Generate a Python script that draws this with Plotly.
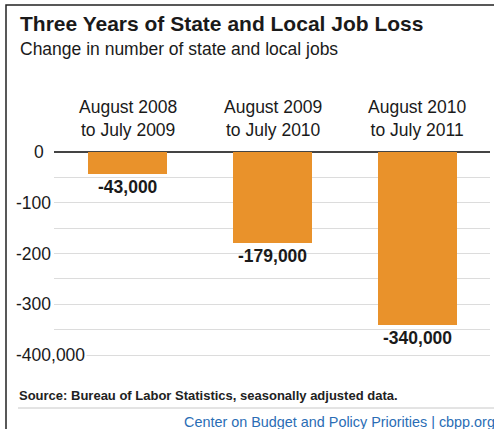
import plotly.graph_objects as go

# ---- data ----
categories = ["August 2008<br>to July 2009", "August 2009<br>to July 2010", "August 2010<br>to July 2011"]
job_change_thousands = [-43, -179, -340]
value_labels = ["-43,000", "-179,000", "-340,000"]
ytick_vals = [0, -100, -200, -300, -400]
ytick_text = ["0", "-100", "-200", "-300", "-400,000"]
grid_vals = [-50, -100, -150, -200, -250, -300, -350, -400]

W, H = 494, 429
BAR = "#E9922B"
TXT = "#1a1a1a"
FONT = "Liberation Sans, Arial, sans-serif"

def py(px):
    return 1 - px / H

xs = list(range(len(categories)))

fig = go.Figure()
fig.add_trace(go.Bar(
    x=xs, y=job_change_thousands, marker=dict(color=BAR, line=dict(width=0)),
    width=0.545, hoverinfo="skip", showlegend=False,
))

ann = []
for x, c in zip(xs, categories):
    ann.append(dict(x=x, xref="x", y=py(118), yref="paper", text=c, showarrow=False,
                    xanchor="center", yanchor="middle",
                    font=dict(family=FONT, size=17.5, color=TXT)))
for x, v, t in zip(xs, job_change_thousands, value_labels):
    ann.append(dict(x=x, xref="x", y=v, yref="y", text="<b>%s</b>" % t, showarrow=False,
                    xanchor="center", yanchor="top", yshift=-1,
                    font=dict(family=FONT, size=17.5, color=TXT)))
for v, t in zip(ytick_vals, ytick_text):
    if v == 0:
        ann.append(dict(x=46 / W, xref="paper", y=v, yref="y", text=t, showarrow=False,
                        xanchor="right", yanchor="middle",
                        font=dict(family=FONT, size=17.5, color=TXT)))
    else:
        ann.append(dict(x=14 / W, xref="paper", y=v, yref="y", text=t, showarrow=False,
                        xanchor="left", yanchor="middle", bgcolor="white",
                        font=dict(family=FONT, size=17.5, color=TXT)))
ann.append(dict(x=18 / W, xref="paper", y=py(24), yref="paper",
                text="<b>Three Years of State and Local Job Loss</b>", showarrow=False,
                xanchor="left", yanchor="middle", font=dict(family=FONT, size=21, color=TXT)))
ann.append(dict(x=18 / W, xref="paper", y=py(49), yref="paper",
                text="Change in number of state and local jobs", showarrow=False,
                xanchor="left", yanchor="middle", font=dict(family=FONT, size=17.5, color=TXT)))
ann.append(dict(x=17 / W, xref="paper", y=py(395), yref="paper",
                text="<b>Source: Bureau of Labor Statistics, seasonally adjusted data.</b>", showarrow=False,
                xanchor="left", yanchor="middle", font=dict(family=FONT, size=13, color="#222")))
ann.append(dict(x=497 / W, xref="paper", y=py(422), yref="paper",
                text="Center on Budget and Policy Priorities | cbpp.org", showarrow=False,
                xanchor="right", yanchor="middle", font=dict(family=FONT, size=14.4, color="#2a6db5")))

shapes = [
    dict(type="rect", xref="paper", yref="paper", x0=6 / W, x1=1.05, y0=-0.05, y1=py(5),
         line=dict(color="#222", width=1.5), fillcolor="rgba(0,0,0,0)", layer="above"),
    dict(type="line", xref="paper", yref="paper", x0=18 / W, x1=1.05, y0=py(408), y1=py(408),
         line=dict(color="#c8c8c8", width=1)),
]

x_left_px, x_right_px = 54, 490
x0 = (x_left_px - 127.5) / 145
x1 = (x_right_px - 127.5) / 145
scale = 0.5075
y_top = 152 / scale
y_bot = -(H - 152) / scale

fig.update_layout(
    width=W, height=H, margin=dict(l=0, r=0, t=0, b=0),
    paper_bgcolor="white", plot_bgcolor="white",
    xaxis=dict(domain=[x_left_px / W, x_right_px / W], range=[x0, x1], showgrid=False,
               zeroline=False, showticklabels=False, ticks="", fixedrange=True),
    yaxis=dict(domain=[0, 1], range=[y_bot, y_top], tickvals=grid_vals, showticklabels=False,
               showgrid=True, gridcolor="#dcdcdc", gridwidth=1,
               zeroline=True, zerolinecolor="#444", zerolinewidth=1.5, ticks="", fixedrange=True),
    annotations=ann, shapes=shapes, bargap=0,
)

fig.write_html("out.html")
